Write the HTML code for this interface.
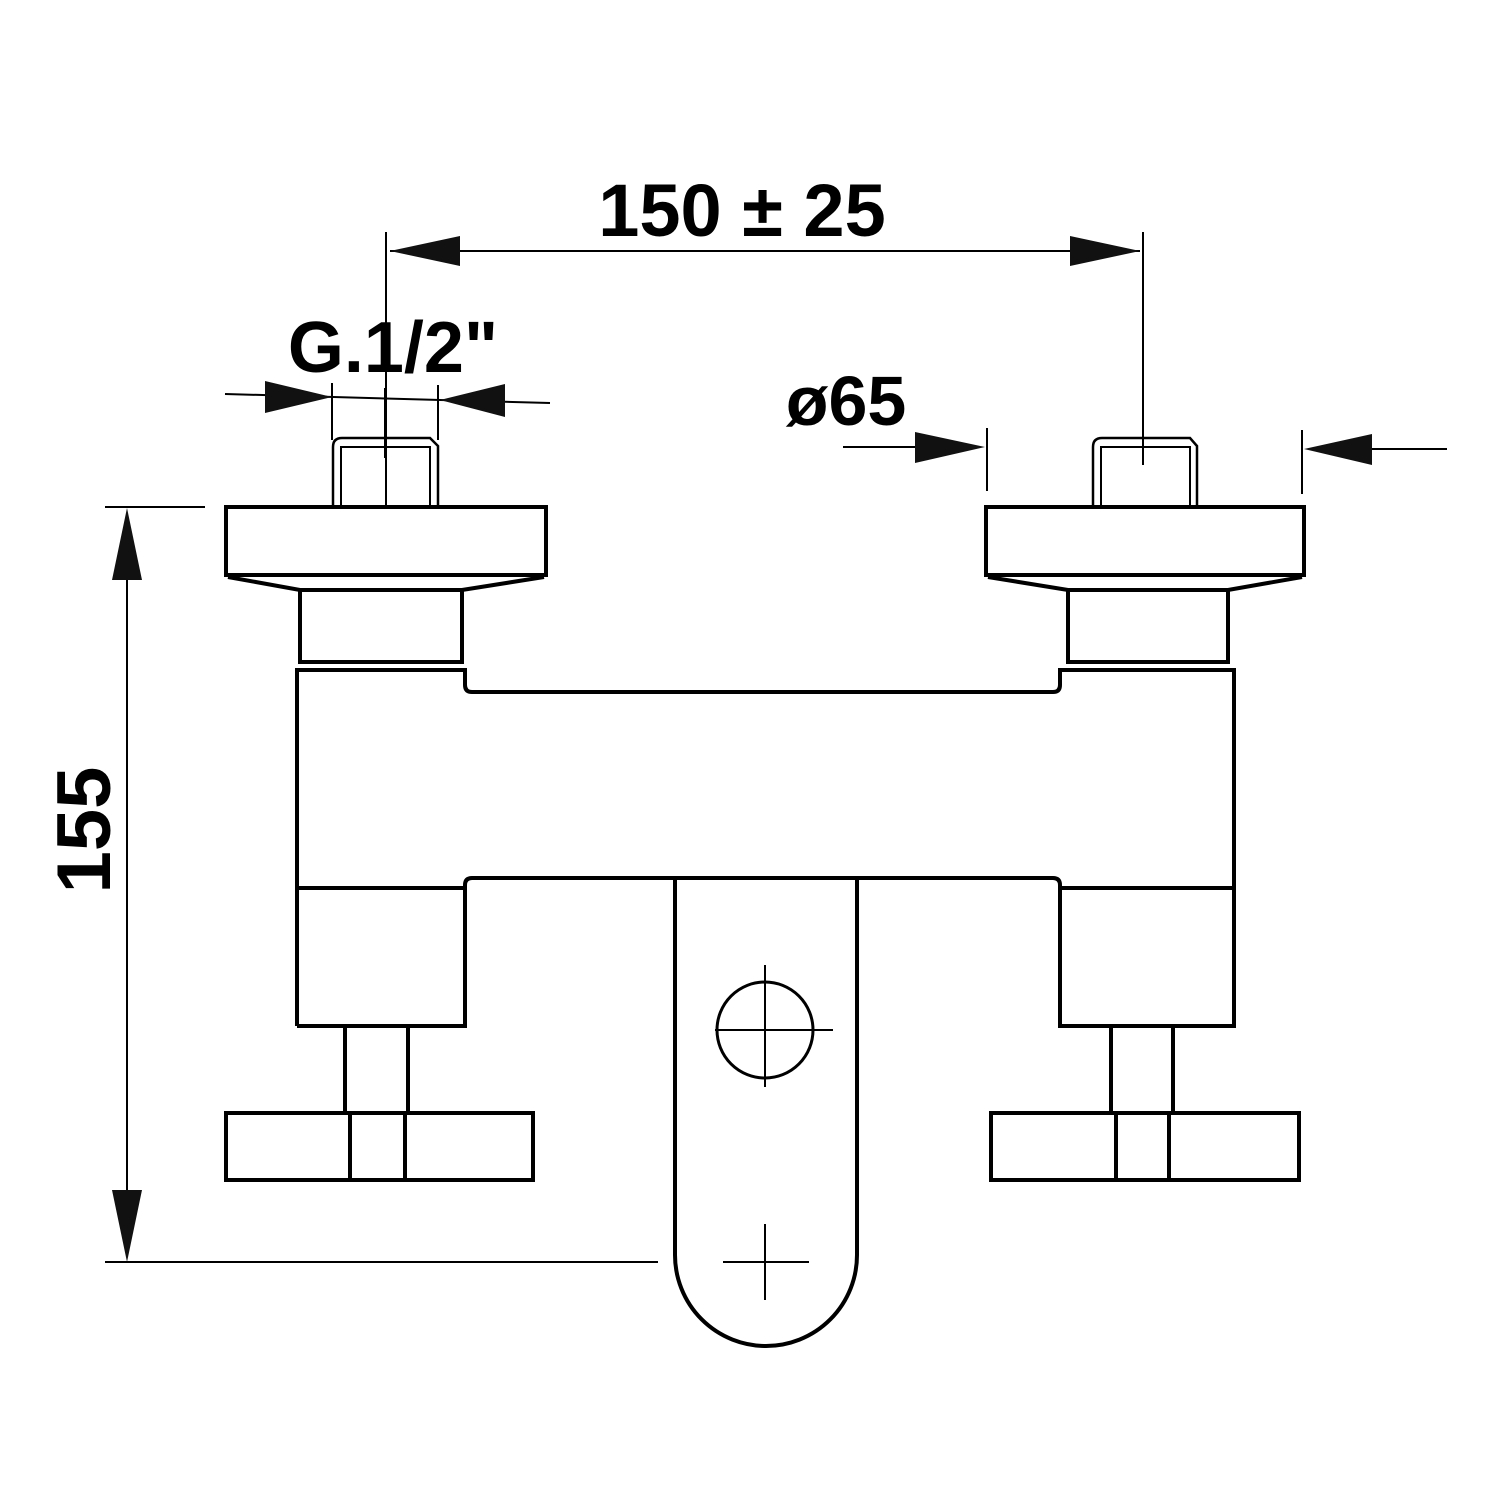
<!DOCTYPE html>
<html><head><style>html,body{margin:0;padding:0;background:#fff}</style></head><body>
<svg width="1500" height="1500" viewBox="0 0 1500 1500" xmlns="http://www.w3.org/2000/svg">
<g fill="none" stroke="#000" stroke-width="2">
<line x1="386" y1="232" x2="386" y2="505"/>
<line x1="1143" y1="232" x2="1143" y2="465"/>
<line x1="390" y1="251" x2="1140" y2="251"/>
<line x1="225" y1="394" x2="550" y2="403"/>
<line x1="332" y1="383" x2="332" y2="440"/>
<line x1="438" y1="385" x2="438" y2="440"/>
<line x1="385" y1="388" x2="385" y2="458"/>
<line x1="843" y1="447" x2="915" y2="447"/>
<line x1="1372" y1="449" x2="1447" y2="449"/>
<line x1="987" y1="428" x2="987" y2="491"/>
<line x1="1302" y1="430" x2="1302" y2="494"/>
<line x1="1143" y1="400" x2="1143" y2="465"/>
<line x1="105" y1="507" x2="205" y2="507"/>
<line x1="105" y1="1262" x2="658" y2="1262"/>
<line x1="127" y1="515" x2="127" y2="1255"/>
</g>
<g fill="#111">
<polygon points="390,251 460,236 460,266"/>
<polygon points="1140,251 1070,236 1070,266"/>
<polygon points="332,397 265,381 265,413"/>
<polygon points="440,400 505,384 505,417"/>
<polygon points="985,447 915,432 915,463"/>
<polygon points="1304,449 1372,434 1372,465"/>
<polygon points="127,508 112,580 142,580"/>
<polygon points="127,1262 112,1190 142,1190"/>
</g>
<g fill="none" stroke="#000" stroke-width="4">
<path d="M333,507 V447 Q333,438 342,438 H430 L438,446 V507" stroke-width="2.5"/>
<path d="M341,507 V447 H430 V507" stroke-width="2"/>
<rect x="226" y="507" width="320" height="68"/>
<path d="M228,577 L300,590 H462 L544,577"/>
<rect x="300" y="590" width="162" height="72"/>
<path d="M1093,507 V447 Q1093,438 1102,438 H1190 L1197,446 V507" stroke-width="2.5"/>
<path d="M1101,507 V447 H1190 V507" stroke-width="2"/>
<rect x="986" y="507" width="318" height="68"/>
<path d="M988,577 L1068,590 H1228 L1302,577"/>
<rect x="1068" y="590" width="160" height="72"/>
<path d="M297,1026 V670 H465 V685 Q465,692 472,692 H1053 Q1060,692 1060,685 V670 H1234 V1026 H1060 V888 H1234"/>
<path d="M297,888 H465 V1026 H297"/>
<path d="M465,888 V885 Q465,878 472,878 H1053 Q1060,878 1060,885 V888"/>
<path d="M675,878 V1255 A91,91 0 0 0 857,1255 V878"/>
<circle cx="765" cy="1030" r="48" stroke-width="3"/>
<path d="M345,1026 V1113 M408,1026 V1113"/>
<rect x="226" y="1113" width="307" height="67"/>
<path d="M350,1113 V1180 M405,1113 V1180"/>
<path d="M1111,1026 V1113 M1173,1026 V1113"/>
<rect x="991" y="1113" width="308" height="67"/>
<path d="M1116,1113 V1180 M1169,1113 V1180"/>
</g>
<g stroke="#000" stroke-width="2">
<line x1="715" y1="1030" x2="833" y2="1030"/>
<line x1="765" y1="965" x2="765" y2="1087"/>
<line x1="723" y1="1262" x2="809" y2="1262"/>
<line x1="765" y1="1224" x2="765" y2="1300"/>
</g>
<g font-family="Liberation Sans, sans-serif" font-weight="bold" fill="#000">
<text x="742" y="236" font-size="74" text-anchor="middle">150 ± 25</text>
<text x="393" y="372" font-size="72" text-anchor="middle">G.1/2"</text>
<text x="846" y="425" font-size="70" text-anchor="middle">ø65</text>
<text transform="translate(110,830) rotate(-90)" font-size="76" text-anchor="middle">155</text>
</g>
</svg>
</body></html>
